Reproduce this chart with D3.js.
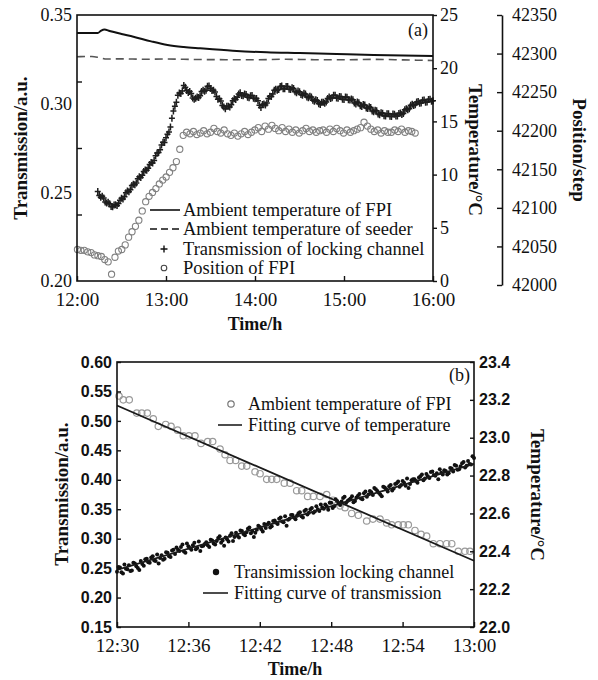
<!DOCTYPE html>
<html>
<head>
<meta charset="utf-8">
<script src="https://cdn.jsdelivr.net/npm/d3@7"></script>
<style>
  body { margin: 0; background: #fff; }
  svg { display: block; }
</style>
</head>
<body>
<svg id="chart" width="598" height="680"></svg>
<script>
// ---------- Panel (a): long run, 12:00 - 16:00 (minutes after 12:00) ----------
const aTimeTicks = [0, 60, 120, 180, 240];
const aTimeLabels = ["12:00", "13:00", "14:00", "15:00", "16:00"];
const aTransLabels = [0.20, 0.25, 0.30, 0.35];
const aTransMinor = [0.2375, 0.275, 0.3125];
const aTempTicks = [0, 5, 10, 15, 20, 25];
const aPosTicks = [42000, 42050, 42100, 42150, 42200, 42250, 42300, 42350];

// ambient temperature of the FPI (solid line, right axis)
const fpiTempTime = [0, 10, 14, 16, 18.5, 22, 30, 38, 50, 61, 72, 83, 105, 128, 150, 175, 200, 220, 240];
const fpiTemp = [23.31, 23.31, 23.31, 23.5, 23.64, 23.5, 23.22, 22.96, 22.52, 22.18, 21.99, 21.87, 21.65, 21.49, 21.42, 21.33, 21.25, 21.19, 21.15];

// ambient temperature of the seeder (dashed line, right axis)
const seederTime = [0, 10, 15, 20, 30, 45, 60, 80, 100, 120, 140, 160, 180, 200, 220, 240];
const seederTemp = [21.08, 21.1, 21.0, 20.86, 20.88, 20.84, 20.86, 20.82, 20.8, 20.79, 20.84, 20.8, 20.79, 20.83, 20.78, 20.72];

// transmission of the locking channel: even minutes from 12:14 ...
const lockStart = 14, lockStep = 2;
const lockTrans = [
  0.2505, 0.2472, 0.2468, 0.2440, 0.2436, 0.2418, 0.2430, 0.2437, 0.2466, 0.2475,
  0.2508, 0.2514, 0.2546, 0.2553, 0.2588, 0.2596, 0.2626, 0.2636, 0.2668, 0.2680,
  0.2722, 0.2740, 0.2782, 0.2808, 0.2840, 0.2918, 0.2985, 0.3048, 0.3058, 0.3102,
  0.3074, 0.3068, 0.3032, 0.3030, 0.3035, 0.3069, 0.3070, 0.3098, 0.3085, 0.3076,
  0.3040, 0.3028, 0.2990, 0.2972, 0.2985, 0.2994, 0.3028, 0.3036, 0.3062, 0.3044,
  0.3052, 0.3034, 0.3046, 0.3028, 0.3016, 0.2978, 0.2998, 0.3004, 0.3042, 0.3054,
  0.3082, 0.3080, 0.3100, 0.3084, 0.3097, 0.3080, 0.3085, 0.3062, 0.3067, 0.3048,
  0.3055, 0.3034, 0.3037, 0.3014, 0.3018, 0.2996, 0.3008, 0.3010, 0.3037, 0.3034,
  0.3048, 0.3030, 0.3039, 0.3024, 0.3036, 0.3020, 0.3022, 0.2998, 0.3005, 0.2984,
  0.2992, 0.2973, 0.2978, 0.2954, 0.2960, 0.2938, 0.2946, 0.2930, 0.2943, 0.2928,
  0.2941, 0.2931, 0.2947, 0.2944, 0.2972, 0.2971, 0.2997, 0.2994, 0.3012, 0.3004,
  0.3020, 0.3009, 0.3025, 0.3016
];
// ... and odd minutes from 12:15
const lockStartOdd = 15;
const lockTransOdd = [
  0.2482, 0.2478, 0.2446, 0.2444, 0.2420, 0.2429, 0.2426, 0.2456, 0.2463, 0.2497,
  0.2503, 0.2538, 0.2543, 0.2577, 0.2583, 0.2617, 0.2624, 0.2657, 0.2666, 0.2707,
  0.2724, 0.2767, 0.2781, 0.2828, 0.2868, 0.2958, 0.3008, 0.3060, 0.3071, 0.3093,
  0.3063, 0.3058, 0.3025, 0.3038, 0.3044, 0.3075, 0.3076, 0.3099, 0.3074, 0.3066,
  0.3025, 0.3015, 0.2981, 0.2986, 0.2981, 0.3017, 0.3023, 0.3055, 0.3046, 0.3055,
  0.3036, 0.3045, 0.3030, 0.3029, 0.2991, 0.2995, 0.2993, 0.3029, 0.3041, 0.3075,
  0.3076, 0.3097, 0.3084, 0.3097, 0.3082, 0.3090, 0.3067, 0.3071, 0.3051, 0.3059,
  0.3038, 0.3042, 0.3019, 0.3022, 0.3000, 0.3008, 0.3002, 0.3029, 0.3029, 0.3047,
  0.3032, 0.3041, 0.3025, 0.3037, 0.3022, 0.3027, 0.3004, 0.3009, 0.2988, 0.2995,
  0.2976, 0.2982, 0.2959, 0.2963, 0.2942, 0.2949, 0.2932, 0.2943, 0.2929, 0.2942,
  0.2930, 0.2945, 0.2939, 0.2965, 0.2966, 0.2991, 0.2989, 0.3009, 0.3002, 0.3019,
  0.3008, 0.3023, 0.3013
];

// position of the FPI (circles, outer right axis), sampled every 2.3 min
const posStart = 0.3, posStep = 2.3;
const fpiPos = [
  42046, 42045, 42045, 42043, 42042, 42039, 42038, 42037, 42033, 42030,
  42014, 42036, 42044, 42046, 42052, 42062, 42069, 42076, 42084, 42096,
  42108, 42115, 42120, 42125, 42131, 42136, 42140, 42146, 42152, 42160,
  42176, 42194,
  42198, 42196, 42199, 42195, 42197, 42200, 42196, 42198, 42203, 42199,
  42197, 42201, 42196, 42194, 42197, 42193, 42196, 42199, 42195, 42198,
  42201, 42204, 42199, 42206, 42202, 42207, 42203, 42200, 42204, 42199,
  42202, 42198, 42201, 42197, 42200, 42203, 42199, 42201, 42198, 42200,
  42201, 42198, 42202, 42199, 42203, 42200, 42197, 42201, 42198, 42200,
  42202, 42204, 42211, 42206, 42202, 42199, 42201, 42197, 42200, 42198,
  42198, 42201, 42199, 42202, 42198, 42200, 42199, 42197
];

// ---------- Panel (b): 12:30 - 13:00 (minutes after 12:30) ----------
const bTimeTicks = [0, 6, 12, 18, 24, 30];
const bTimeLabels = ["12:30", "12:36", "12:42", "12:48", "12:54", "13:00"];
const bTransTicks = [0.15, 0.20, 0.25, 0.30, 0.35, 0.40, 0.45, 0.50, 0.55, 0.60];
const bTempTicks = [22.0, 22.2, 22.4, 22.6, 22.8, 23.0, 23.2, 23.4];

// ambient temperature of the FPI (open circles, right axis)
const bTempTime = [0.17, 0.53, 1.03, 1.66, 2.08, 2.55, 3.05, 3.47, 4.09, 4.54,
  5.09, 5.57, 6.05, 6.55, 7.06, 7.62, 8.04, 8.66, 9.08, 9.50,
  9.97, 10.48, 10.90, 11.60, 12.02, 12.58, 13.00, 13.42, 14.06, 14.54,
  15.10, 15.52, 16.02, 16.50, 17.06, 17.62, 18.15, 18.74, 19.16, 19.72,
  20.28, 20.98, 21.51, 22.10, 22.66, 23.08, 23.64, 24.06, 24.48, 25.04,
  25.55, 26.02, 26.58, 27.14, 27.70, 28.13, 28.68, 29.24, 29.66];
const bTemp = [23.22, 23.20, 23.20, 23.13, 23.13, 23.13, 23.10, 23.06, 23.07, 23.06,
  23.04, 23.01, 23.01, 23.01, 22.97, 22.98, 22.98, 22.94, 22.91, 22.88,
  22.88, 22.85, 22.85, 22.82, 22.81, 22.78, 22.78, 22.78, 22.76, 22.76,
  22.72, 22.72, 22.69, 22.69, 22.69, 22.70, 22.67, 22.64, 22.63, 22.60,
  22.59, 22.56, 22.57, 22.57, 22.55, 22.54, 22.54, 22.54, 22.54, 22.51,
  22.49, 22.48, 22.44, 22.44, 22.44, 22.44, 22.40, 22.40, 22.40];

// transmission of the locking channel (filled dots, left axis):
// readings every 0.25 min, plus the readings taken halfway in between
const bTransStep = 0.25;
const bTrans = [
  0.244, 0.251, 0.241, 0.249, 0.255, 0.246, 0.258, 0.250, 0.262, 0.254,
  0.266, 0.259, 0.270, 0.262, 0.258, 0.272, 0.266, 0.276, 0.269, 0.281,
  0.285, 0.279, 0.290, 0.276, 0.287, 0.281, 0.293, 0.284, 0.279, 0.288,
  0.294, 0.286, 0.297, 0.290, 0.301, 0.293, 0.288, 0.299, 0.305, 0.296,
  0.310, 0.302, 0.313, 0.306, 0.317, 0.309, 0.303, 0.315, 0.320, 0.312,
  0.318, 0.327, 0.321, 0.331, 0.325, 0.336, 0.328, 0.322, 0.334, 0.340,
  0.333, 0.343, 0.338, 0.347, 0.341, 0.350, 0.344, 0.355, 0.347, 0.353,
  0.358, 0.349, 0.361, 0.355, 0.364, 0.357, 0.369, 0.361, 0.366, 0.372,
  0.364, 0.373, 0.368, 0.377, 0.371, 0.381, 0.374, 0.384, 0.378, 0.372,
  0.387, 0.380, 0.391, 0.385, 0.394, 0.388, 0.398, 0.390, 0.386, 0.399,
  0.401, 0.395, 0.406, 0.399, 0.410, 0.403, 0.414, 0.407, 0.401, 0.412,
  0.416, 0.409, 0.420, 0.414, 0.424, 0.418, 0.428, 0.421, 0.432, 0.426,
  0.437
];
const bTransMid = [
  0.252, 0.243, 0.256, 0.248, 0.245, 0.259, 0.253, 0.247, 0.257, 0.265,
  0.260, 0.268, 0.263, 0.273, 0.267, 0.264, 0.277, 0.270, 0.280, 0.274,
  0.281, 0.286, 0.278, 0.292, 0.284, 0.289, 0.282, 0.295, 0.287, 0.291,
  0.289, 0.298, 0.292, 0.296, 0.304, 0.297, 0.302, 0.295, 0.309, 0.303,
  0.305, 0.314, 0.308, 0.311, 0.319, 0.313, 0.310, 0.322, 0.316, 0.325,
  0.324, 0.319, 0.330, 0.327, 0.334, 0.329, 0.338, 0.332, 0.340, 0.336,
  0.339, 0.345, 0.336, 0.349, 0.344, 0.352, 0.346, 0.350, 0.358, 0.351,
  0.355, 0.361, 0.352, 0.367, 0.360, 0.363, 0.371, 0.364, 0.368, 0.362,
  0.370, 0.376, 0.367, 0.380, 0.375, 0.379, 0.386, 0.381, 0.375, 0.388,
  0.384, 0.389, 0.382, 0.393, 0.397, 0.391, 0.395, 0.402, 0.393, 0.401,
  0.398, 0.404, 0.409, 0.402, 0.406, 0.413, 0.408, 0.411, 0.418, 0.409,
  0.415, 0.411, 0.419, 0.425, 0.417, 0.423, 0.430, 0.424, 0.427, 0.440
];

// linear fits (values at 12:30 and 13:00)
const fitTime = [0, 30];
const fitTemp = [23.17, 22.35];
const fitTrans = [0.247, 0.427];

// ---------------------------------------------------------------------
const serif = "'Liberation Serif','Times New Roman',serif";
const sans = "'Liberation Sans',Arial,sans-serif";
const ink = "#111";
const svg = d3.select("#chart");

function styleAxis(g, font, size, weight) {
  g.selectAll("text").attr("font-family", font).attr("font-size", size)
    .attr("font-weight", weight || "normal").attr("fill", ink);
  g.selectAll("line").attr("stroke", ink).attr("stroke-width", 1.4);
  g.selectAll("path.domain").attr("stroke", ink).attr("stroke-width", 1.6);
}

// ================= Panel (a) =================
const aX = d3.scaleLinear().domain([0, 240]).range([77, 433]);
const aYT = d3.scaleLinear().domain([0.20, 0.35]).range([281, 15]);
const aYTemp = d3.scaleLinear().domain([0, 25]).range([281, 15]);
const aYPos = d3.scaleLinear().domain([42000, 42350]).range([285, 15]);

const gA = svg.append("g");

// data: position of FPI
gA.append("g").selectAll("circle").data(fpiPos).join("circle")
  .attr("cx", (d, i) => aX(posStart + i * posStep))
  .attr("cy", d => aYPos(d))
  .attr("r", 3.1)
  .attr("fill", "none").attr("stroke", "#808080").attr("stroke-width", 1.1);

// data: transmission (+)
const plus = "M-3,0H3M0,-3.5V3.5";
const gPlus = gA.append("g").attr("stroke", "#1e1e1e").attr("stroke-width", 1.5);
gPlus.selectAll("path.e").data(lockTrans).join("path").attr("class", "e")
  .attr("transform", (d, i) => `translate(${aX(lockStart + i * lockStep)},${aYT(d)})`)
  .attr("d", plus);
gPlus.selectAll("path.o").data(lockTransOdd).join("path").attr("class", "o")
  .attr("transform", (d, i) => `translate(${aX(lockStartOdd + i * lockStep)},${aYT(d)})`)
  .attr("d", plus);

// data: temperatures
const lineFpi = d3.line().x(d => aX(d[0])).y(d => aYTemp(d[1])).curve(d3.curveMonotoneX);
gA.append("path").datum(fpiTempTime.map((t, i) => [t, fpiTemp[i]]))
  .attr("d", lineFpi).attr("fill", "none").attr("stroke", ink).attr("stroke-width", 2);
gA.append("path").datum(seederTime.map((t, i) => [t, seederTemp[i]]))
  .attr("d", lineFpi).attr("fill", "none").attr("stroke", "#555")
  .attr("stroke-width", 1.6).attr("stroke-dasharray", "8,5");

// frame
gA.append("rect").attr("x", 77).attr("y", 15).attr("width", 356).attr("height", 266)
  .attr("fill", "none").attr("stroke", ink).attr("stroke-width", 1.6);

// left axis: labels and inner ticks
const axAL = gA.append("g").attr("transform", "translate(77,0)")
  .call(d3.axisLeft(aYT).tickValues(aTransLabels).tickSize(0).tickPadding(5).tickFormat(d3.format(".2f")));
axAL.select(".domain").remove();
styleAxis(axAL, serif, 18);
const axALm = gA.append("g").attr("transform", "translate(77,0)")
  .call(d3.axisRight(aYT).tickValues(aTransMinor).tickSize(5).tickFormat(""));
axALm.select(".domain").remove();
styleAxis(axALm, serif, 18);

// bottom axis
const axAB = gA.append("g").attr("transform", "translate(0,281)")
  .call(d3.axisBottom(aX).tickValues(aTimeTicks).tickSizeInner(-5).tickSizeOuter(0).tickPadding(12)
    .tickFormat((d, i) => aTimeLabels[i]));
axAB.select(".domain").remove();
styleAxis(axAB, serif, 19);
axAB.selectAll("text").attr("dy", "0.71em");

// right temperature axis
const axAR = gA.append("g").attr("transform", "translate(433,0)")
  .call(d3.axisRight(aYTemp).tickValues(aTempTicks).tickSize(4).tickPadding(3));
axAR.select(".domain").remove();
styleAxis(axAR, serif, 18);

// outer position axis
const axAP = gA.append("g").attr("transform", "translate(502,0)")
  .call(d3.axisRight(aYPos).tickValues(aPosTicks).tickSizeInner(-5).tickSizeOuter(0).tickPadding(10)
    .tickFormat(d3.format("d")));
styleAxis(axAP, serif, 18);

// titles
gA.append("text").attr("x", 255).attr("y", 330).attr("text-anchor", "middle")
  .attr("font-family", serif).attr("font-size", 18).attr("font-weight", "bold").attr("fill", ink)
  .text("Time/h");
gA.append("text").attr("transform", "translate(20,148) rotate(-90)").attr("text-anchor", "middle")
  .attr("dy", "0.35em")
  .attr("font-family", serif).attr("font-size", 19).attr("font-weight", "bold").attr("fill", ink)
  .text("Transmission/a.u.");
gA.append("text").attr("transform", "translate(476,150) rotate(90)").attr("text-anchor", "middle")
  .attr("dy", "0.35em")
  .attr("font-family", serif).attr("font-size", 19).attr("font-weight", "bold").attr("fill", ink)
  .text("Temperature/\u00B0C");
gA.append("text").attr("transform", "translate(580,150) rotate(90)").attr("text-anchor", "middle")
  .attr("dy", "0.35em")
  .attr("font-family", serif).attr("font-size", 19).attr("font-weight", "bold").attr("fill", ink)
  .text("Position/step");
gA.append("text").attr("x", 428).attr("y", 36).attr("text-anchor", "end")
  .attr("font-family", serif).attr("font-size", 18).attr("fill", ink).text("(a)");

// legend (a)
const legA = gA.append("g").attr("font-family", serif).attr("font-size", 18.5).attr("fill", ink);
const legAItems = ["Ambient temperature of FPI", "Ambient temperature of seeder",
  "Transmission of locking channel", "Position of FPI"];
const legAY = [210, 229, 249, 268];
legAItems.forEach((txt, i) => {
  const y = legAY[i];
  if (i === 0) legA.append("line").attr("x1", 150).attr("x2", 180).attr("y1", y).attr("y2", y)
    .attr("stroke", ink).attr("stroke-width", 1.6);
  if (i === 1) legA.append("line").attr("x1", 150).attr("x2", 180).attr("y1", y).attr("y2", y)
    .attr("stroke", ink).attr("stroke-width", 1.4).attr("stroke-dasharray", "7,4");
  if (i === 2) legA.append("path").attr("transform", `translate(164,${y})`).attr("d", "M-3.5,0H3.5M0,-3.5V3.5")
    .attr("stroke", ink).attr("stroke-width", 1.4);
  if (i === 3) legA.append("circle").attr("cx", 164).attr("cy", y).attr("r", 2.8)
    .attr("fill", "none").attr("stroke", "#444").attr("stroke-width", 1.1);
  legA.append("text").attr("x", 183).attr("y", y).attr("dy", "0.33em").text(txt);
});

// ================= Panel (b) =================
const bX = d3.scaleLinear().domain([0, 30]).range([117, 474]);
const bYT = d3.scaleLinear().domain([0.15, 0.60]).range([627, 362]);
const bYTemp = d3.scaleLinear().domain([22.0, 23.4]).range([627, 362]);

const gB = svg.append("g");

gB.append("g").selectAll("circle").data(bTemp).join("circle")
  .attr("cx", (d, i) => bX(bTempTime[i]))
  .attr("cy", d => bYTemp(d))
  .attr("r", 3.2)
  .attr("fill", "none").attr("stroke", "#9a9a9a").attr("stroke-width", 1.2);

const dots = gB.append("g").attr("fill", "#111");
dots.selectAll("circle.a").data(bTrans).join("circle").attr("class", "a")
  .attr("cx", (d, i) => bX(i * bTransStep))
  .attr("cy", d => bYT(d))
  .attr("r", 2);
dots.selectAll("circle.b").data(bTransMid).join("circle").attr("class", "b")
  .attr("cx", (d, i) => bX((i + 0.5) * bTransStep))
  .attr("cy", d => bYT(d))
  .attr("r", 2);

gB.append("line")
  .attr("x1", bX(fitTime[0])).attr("x2", bX(fitTime[1]))
  .attr("y1", bYTemp(fitTemp[0])).attr("y2", bYTemp(fitTemp[1]))
  .attr("stroke", "#1a1a1a").attr("stroke-width", 1.8);
gB.append("line")
  .attr("x1", bX(fitTime[0])).attr("x2", bX(fitTime[1]))
  .attr("y1", bYT(fitTrans[0])).attr("y2", bYT(fitTrans[1]))
  .attr("stroke", "#1a1a1a").attr("stroke-width", 1.8);

gB.append("rect").attr("x", 117).attr("y", 362).attr("width", 357).attr("height", 265)
  .attr("fill", "none").attr("stroke", ink).attr("stroke-width", 1.6);

const axBL = gB.append("g").attr("transform", "translate(117,0)")
  .call(d3.axisLeft(bYT).tickValues(bTransTicks).tickSizeInner(-4).tickSizeOuter(0).tickPadding(5)
    .tickFormat(d3.format(".2f")));
axBL.select(".domain").remove();
styleAxis(axBL, sans, 16, "bold");

const axBR = gB.append("g").attr("transform", "translate(474,0)")
  .call(d3.axisRight(bYTemp).tickValues(bTempTicks).tickSizeInner(-4).tickSizeOuter(0).tickPadding(5)
    .tickFormat(d3.format(".1f")));
axBR.select(".domain").remove();
styleAxis(axBR, sans, 16, "bold");

const axBB = gB.append("g").attr("transform", "translate(0,627)")
  .call(d3.axisBottom(bX).tickValues(bTimeTicks).tickSizeInner(-5).tickSizeOuter(0).tickPadding(12)
    .tickFormat((d, i) => bTimeLabels[i]));
axBB.select(".domain").remove();
styleAxis(axBB, serif, 19);
axBB.selectAll("text").attr("dy", "0.71em");

gB.append("text").attr("x", 295).attr("y", 675).attr("text-anchor", "middle")
  .attr("font-family", serif).attr("font-size", 18).attr("font-weight", "bold").attr("fill", ink)
  .text("Time/h");
gB.append("text").attr("transform", "translate(61,494) rotate(-90)").attr("text-anchor", "middle")
  .attr("dy", "0.35em")
  .attr("font-family", serif).attr("font-size", 19).attr("font-weight", "bold").attr("fill", ink)
  .text("Transmission/a.u.");
gB.append("text").attr("transform", "translate(538,495) rotate(90)").attr("text-anchor", "middle")
  .attr("dy", "0.35em")
  .attr("font-family", serif).attr("font-size", 19).attr("font-weight", "bold").attr("fill", ink)
  .text("Temperature/\u00B0C");
gB.append("text").attr("x", 470).attr("y", 381).attr("text-anchor", "end")
  .attr("font-family", serif).attr("font-size", 18).attr("fill", ink).text("(b)");

// legends (b)
const legB = gB.append("g").attr("font-family", serif).attr("font-size", 18).attr("fill", ink);
legB.append("circle").attr("cx", 231).attr("cy", 404).attr("r", 3.2)
  .attr("fill", "none").attr("stroke", "#777").attr("stroke-width", 1.2);
legB.append("text").attr("x", 248).attr("y", 404).attr("dy", "0.33em").text("Ambient temperature of FPI");
legB.append("line").attr("x1", 218).attr("x2", 242).attr("y1", 425).attr("y2", 425)
  .attr("stroke", ink).attr("stroke-width", 1.5);
legB.append("text").attr("x", 248).attr("y", 425).attr("dy", "0.33em").text("Fitting curve of temperature");
legB.append("circle").attr("cx", 216).attr("cy", 572).attr("r", 3.2).attr("fill", "#111");
legB.append("text").attr("x", 234).attr("y", 572).attr("dy", "0.33em").text("Transimission locking channel");
legB.append("line").attr("x1", 203).attr("x2", 228).attr("y1", 593).attr("y2", 593)
  .attr("stroke", ink).attr("stroke-width", 1.5);
legB.append("text").attr("x", 234).attr("y", 593).attr("dy", "0.33em").text("Fitting curve of transmission");
</script>
</body>
</html>
